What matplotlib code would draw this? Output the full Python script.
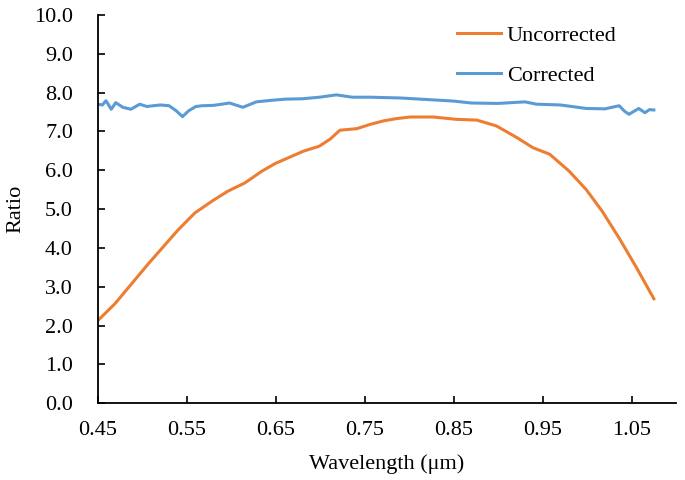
import numpy as np
import matplotlib
matplotlib.use("Agg")
import matplotlib.pyplot as plt

plt.rcParams['font.family'] = ['Liberation Serif', 'DejaVu Serif']

# Uncorrected ratio
unc_wl = [0.450, 0.469, 0.488, 0.507, 0.525, 0.540, 0.559, 0.578, 0.596, 0.615, 0.634,
          0.649, 0.665, 0.681, 0.699, 0.711, 0.722, 0.741, 0.756, 0.771, 0.786, 0.801,
          0.827, 0.853, 0.876, 0.898, 0.921, 0.939, 0.958, 0.980, 0.999, 1.017, 1.036,
          1.055, 1.075]
unc_ratio = [2.13, 2.56, 3.08, 3.60, 4.07, 4.46, 4.90, 5.20, 5.46, 5.67, 5.97,
             6.17, 6.33, 6.49, 6.62, 6.80, 7.03, 7.07, 7.18, 7.27, 7.33, 7.37,
             7.37, 7.31, 7.29, 7.14, 6.84, 6.58, 6.41, 5.97, 5.50, 4.94, 4.25,
             3.51, 2.69]

# Corrected ratio
cor_wl = [0.450, 0.455, 0.459, 0.465, 0.470, 0.478, 0.487, 0.497, 0.505, 0.512, 0.520,
          0.530, 0.538, 0.545, 0.552, 0.560, 0.567, 0.580, 0.598, 0.613, 0.628, 0.645,
          0.661, 0.680, 0.699, 0.718, 0.736, 0.756, 0.790, 0.820, 0.850, 0.870, 0.900,
          0.930, 0.943, 0.970, 0.999, 1.020, 1.036, 1.042, 1.047, 1.058, 1.065, 1.070, 1.075]
cor_ratio = [7.70, 7.68, 7.79, 7.57, 7.74, 7.62, 7.57, 7.70, 7.64, 7.66, 7.68,
             7.66, 7.53, 7.38, 7.53, 7.64, 7.66, 7.67, 7.73, 7.62, 7.76, 7.80,
             7.83, 7.84, 7.88, 7.94, 7.88, 7.88, 7.86, 7.82, 7.78, 7.73, 7.72,
             7.76, 7.70, 7.68, 7.59, 7.58, 7.66, 7.52, 7.44, 7.59, 7.48, 7.56, 7.55]

x_ticks = [0.45, 0.55, 0.65, 0.75, 0.85, 0.95, 1.05]
y_ticks = [0, 1, 2, 3, 4, 5, 6, 7, 8, 9, 10]

fig = plt.figure(figsize=(6.85, 4.8), dpi=100)
ax = fig.add_axes([0.143, 0.160, 0.844, 0.809])

ax.plot(unc_wl, unc_ratio, color='#ED7D31', lw=2.2, label='Uncorrected')
ax.plot(cor_wl, cor_ratio, color='#5B9BD5', lw=2.2, label='Corrected')

ax.set_xlim(0.45, 1.10)
ax.set_ylim(0, 10)
ax.set_xticks(x_ticks)
ax.set_xticklabels(['%.2f' % v for v in x_ticks])
ax.set_yticks(y_ticks)
ax.set_yticklabels(['%.1f' % v for v in y_ticks])
ax.tick_params(direction='in', length=5, width=1.2, labelsize=16)
ax.tick_params(axis='x', pad=13)
ax.tick_params(axis='y', pad=18)

for s in ['top', 'right']:
    ax.spines[s].set_visible(False)
for s in ['left', 'bottom']:
    ax.spines[s].set_linewidth(1.3)

ax.set_xlabel('Wavelength (μm)', fontsize=16, labelpad=10)
ax.set_ylabel('Ratio', fontsize=16, labelpad=6)

ax.legend(loc='upper left', bbox_to_anchor=(0.586, 1.025), frameon=False, fontsize=16,
          handlelength=2.0, handletextpad=0.25, labelspacing=0.87)

plt.savefig('out.png', dpi=100)
